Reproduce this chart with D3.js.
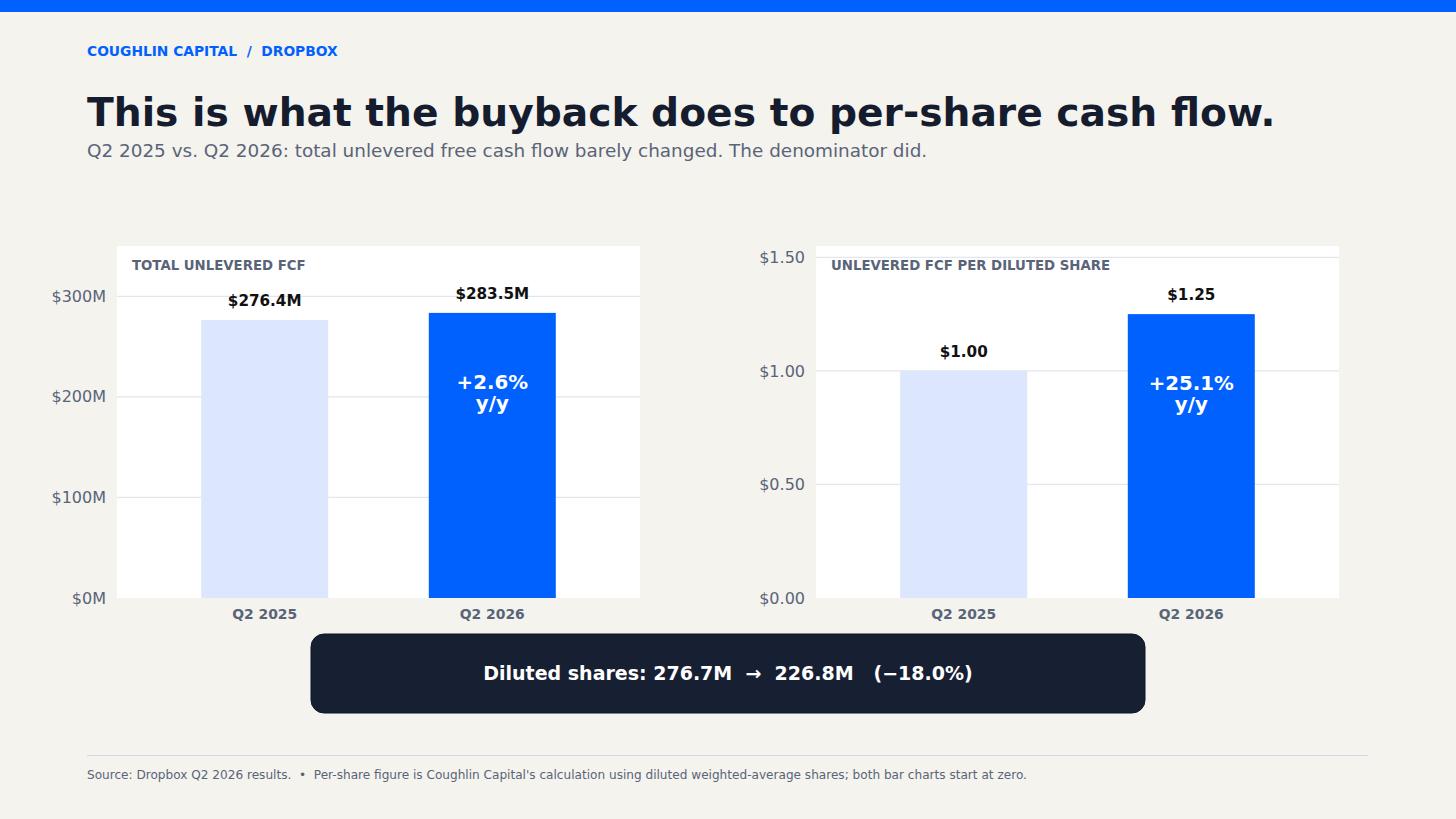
<!DOCTYPE html>
<html>
<head>
<meta charset="utf-8">
<script src="https://cdn.jsdelivr.net/npm/d3@7"></script>
<style>
  html, body { margin: 0; padding: 0; background: #f4f3ee; }
  svg { display: block; font-family: "DejaVu Sans", sans-serif; }
</style>
</head>
<body>
<div id="chart"></div>
<script>
const quarters = ["Q2 2025", "Q2 2026"];
const totalFcf = [276.4, 283.5];          // $M
const fcfPerShare = [1.00, 1.25];         // $ per diluted share
const totalTicks = [0, 100, 200, 300];
const perShareTicks = [0, 0.5, 1.0, 1.5];
const changeLabels = ["+2.6%", "+25.1%"];
const dilutedShares = [276.7, 226.8];     // M

const W = 1456, H = 819;
const blue = "#0061fe", light = "#dce6fd", ink = "#141c2e", muted = "#5a6478";

const svg = d3.select("#chart").append("svg")
    .attr("width", W)
    .attr("height", H);

svg.append("rect").attr("width", W).attr("height", H).attr("fill", "#f4f3ee");
svg.append("rect").attr("width", W).attr("height", 12).attr("fill", blue);

svg.append("text")
    .attr("x", 87).attr("y", 56)
    .attr("fill", blue).attr("font-size", 13.8).attr("font-weight", "bold")
    .attr("xml:space", "preserve")
    .text("COUGHLIN CAPITAL  /  DROPBOX");

svg.append("text")
    .attr("x", 87).attr("y", 126)
    .attr("fill", ink).attr("font-size", 39.2).attr("font-weight", "bold")
    .text("This is what the buyback does to per-share cash flow.");

svg.append("text")
    .attr("x", 87).attr("y", 157)
    .attr("fill", muted).attr("font-size", 18.4)
    .text("Q2 2025 vs. Q2 2026: total unlevered free cash flow barely changed. The denominator did.");

function panel(x0, title, values, domainMax, ticks, tickFmt, valueFmt) {
    const top = 246, bottom = 598, width = 523;
    const g = svg.append("g");

    g.append("rect")
        .attr("x", x0).attr("y", top)
        .attr("width", width).attr("height", bottom - top)
        .attr("fill", "#fff");

    const x = d3.scaleBand()
        .domain(quarters)
        .range([x0, x0 + width])
        .paddingInner(0.442)
        .paddingOuter(0.37);

    const y = d3.scaleLinear()
        .domain([0, domainMax])
        .range([bottom, top]);

    g.selectAll(".grid")
        .data(ticks.filter(t => t > 0))
        .enter().append("line")
        .attr("x1", x0).attr("x2", x0 + width)
        .attr("y1", d => y(d)).attr("y2", d => y(d))
        .attr("stroke", "#e3e6ec").attr("stroke-width", 1.3);

    const yAxis = g.append("g")
        .attr("transform", `translate(${x0},0)`)
        .call(d3.axisLeft(y).tickValues(ticks).tickFormat(tickFmt).tickSize(0).tickPadding(11));
    yAxis.select(".domain").remove();
    yAxis.selectAll("text")
        .attr("fill", muted).attr("font-size", 16)
        .attr("font-family", "DejaVu Sans, sans-serif");

    const xAxis = g.append("g")
        .attr("transform", `translate(0,${bottom})`)
        .call(d3.axisBottom(x).tickSize(0).tickPadding(11));
    xAxis.select(".domain").remove();
    xAxis.selectAll("text")
        .attr("fill", muted).attr("font-size", 13.9).attr("font-weight", "bold")
        .attr("font-family", "DejaVu Sans, sans-serif");

    g.selectAll(".bar")
        .data(values)
        .enter().append("rect")
        .attr("x", (d, i) => x(quarters[i]))
        .attr("y", d => y(d))
        .attr("width", x.bandwidth())
        .attr("height", d => bottom - y(d))
        .attr("fill", (d, i) => i === 0 ? light : blue);

    g.selectAll(".val")
        .data(values)
        .enter().append("text")
        .attr("x", (d, i) => x(quarters[i]) + x.bandwidth() / 2)
        .attr("y", d => y(d) - 14)
        .attr("text-anchor", "middle")
        .attr("fill", "#111")
        .attr("font-size", 15.2).attr("font-weight", "bold")
        .text(valueFmt);

    g.append("text")
        .attr("x", x0 + 15).attr("y", 270)
        .attr("fill", muted).attr("font-size", 13.3).attr("font-weight", "bold")
        .text(title);

    return { x, y };
}

const left = panel(117, "TOTAL UNLEVERED FCF", totalFcf, 350, totalTicks,
    d => `$${d}M`, d => `$${d.toFixed(1)}M`);
const right = panel(816, "UNLEVERED FCF PER DILUTED SHARE", fcfPerShare, 1.55, perShareTicks,
    d => `$${d.toFixed(2)}`, d => `$${d.toFixed(2)}`);

[[left, totalFcf[1], changeLabels[0]], [right, fcfPerShare[1], changeLabels[1]]].forEach(([s, v, lab]) => {
    const cx = s.x(quarters[1]) + s.x.bandwidth() / 2;
    const t = svg.append("text")
        .attr("text-anchor", "middle")
        .attr("fill", "#fff").attr("font-size", 19.8).attr("font-weight", "bold");
    t.append("tspan").attr("x", cx).attr("y", s.y(v) + 76).text(lab);
    t.append("tspan").attr("x", cx).attr("y", s.y(v) + 97).text("y/y");
});

// diluted share callout
const pct = (dilutedShares[1] / dilutedShares[0] - 1) * 100;
svg.append("rect")
    .attr("x", 311).attr("y", 634)
    .attr("width", 834).attr("height", 79)
    .attr("rx", 13)
    .attr("fill", "#172033")
    .attr("stroke", "#0f1626").attr("stroke-width", 1);
svg.append("text")
    .attr("x", 728).attr("y", 680)
    .attr("text-anchor", "middle")
    .attr("fill", "#fff").attr("font-size", 19).attr("font-weight", "bold")
    .attr("xml:space", "preserve")
    .text(`Diluted shares: ${dilutedShares[0].toFixed(1)}M  \u2192  ${dilutedShares[1].toFixed(1)}M   (\u2212${Math.abs(pct).toFixed(1)}%)`);

svg.append("line")
    .attr("x1", 87).attr("x2", 1368)
    .attr("y1", 755.5).attr("y2", 755.5)
    .attr("stroke", "#d3d7df").attr("stroke-width", 1);

svg.append("text")
    .attr("x", 87).attr("y", 779)
    .attr("fill", muted).attr("font-size", 12.1)
    .attr("xml:space", "preserve")
    .text("Source: Dropbox Q2 2026 results.  \u2022  Per-share figure is Coughlin Capital's calculation using diluted weighted-average shares; both bar charts start at zero.");
</script>
</body>
</html>
